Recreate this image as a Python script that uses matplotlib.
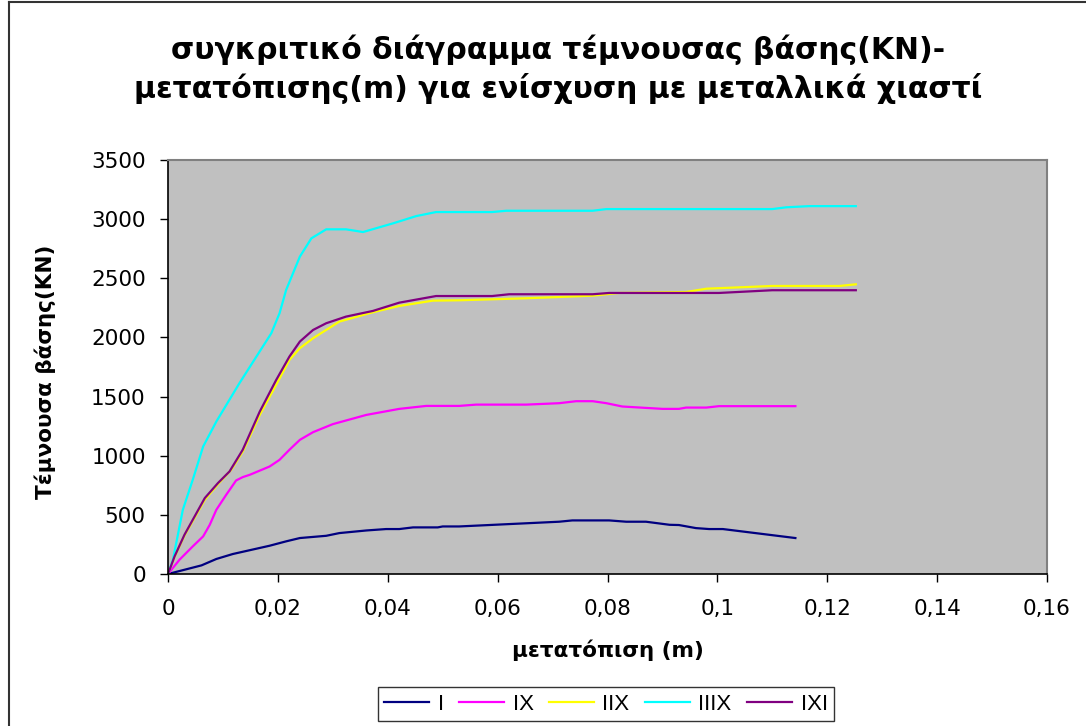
import matplotlib
matplotlib.use("Agg")
import matplotlib.pyplot as plt
from matplotlib.ticker import FuncFormatter, MultipleLocator
from matplotlib.lines import Line2D

plt.rcParams['font.family'] = ['Liberation Sans', 'DejaVu Sans']

# displacement (m) / base shear (KN) for each bracing scheme
x_I = [0, 0.0061, 0.0088, 0.0118, 0.0185, 0.0215, 0.024, 0.0288, 0.0312, 0.0361,
       0.0397, 0.0421, 0.0446, 0.0491, 0.050, 0.053, 0.0712, 0.0736, 0.0803, 0.0834,
       0.087, 0.0913, 0.093, 0.0961, 0.0985, 0.101, 0.1142]
y_I = [0, 73, 127, 169, 239, 276, 304, 323, 346, 368,
       380, 380, 394, 394, 402, 402, 442, 453, 453, 442,
       442, 416, 414, 388, 380, 380, 304]

x_IX = [0, 0.0021, 0.0045, 0.0064, 0.0076, 0.0088, 0.0106, 0.0124, 0.0136, 0.0149,
        0.0185, 0.0203, 0.0221, 0.024, 0.0264, 0.030, 0.0361, 0.0421, 0.047, 0.053,
        0.0561, 0.0652, 0.0712, 0.0743, 0.0773, 0.0798, 0.0827, 0.090, 0.093, 0.0943,
        0.098, 0.1003, 0.1142]
y_IX = [0, 121, 233, 318, 416, 543, 670, 791, 819, 839,
        909, 965, 1050, 1134, 1199, 1267, 1345, 1396, 1421, 1421,
        1432, 1432, 1444, 1461, 1461, 1444, 1416, 1396, 1396, 1407,
        1407, 1419, 1419]

x_IIX = [0, 0.0012, 0.003, 0.0067, 0.0091, 0.0115, 0.0136, 0.0167, 0.020, 0.0221,
         0.024, 0.0264, 0.0312, 0.0373, 0.0421, 0.0482, 0.053, 0.0652, 0.0773, 0.0821,
         0.0943, 0.098, 0.110, 0.1222, 0.1252]
y_IIX = [0, 145, 325, 628, 760, 881, 1035, 1345, 1627, 1810,
         1909, 1993, 2134, 2213, 2266, 2311, 2314, 2331, 2353, 2376,
         2384, 2412, 2435, 2435, 2449]

x_IIIX = [0, 0.0009, 0.0027, 0.0045, 0.0064, 0.0088, 0.013, 0.0188, 0.0203, 0.0215,
          0.024, 0.0261, 0.0288, 0.0324, 0.0355, 0.041, 0.0452, 0.0488, 0.059, 0.0616,
          0.0773, 0.0798, 0.110, 0.1125, 0.1167, 0.1252]
y_IIIX = [0, 121, 543, 796, 1078, 1289, 1613, 2035, 2204, 2401,
          2683, 2838, 2914, 2914, 2891, 2965, 3026, 3060, 3060, 3071,
          3071, 3085, 3085, 3100, 3110, 3110]

x_IXI = [0, 0.0012, 0.003, 0.0067, 0.0091, 0.0112, 0.0136, 0.0167, 0.0197, 0.0221,
         0.024, 0.0264, 0.0288, 0.0324, 0.0373, 0.0421, 0.0488, 0.059, 0.0621, 0.0773,
         0.0803, 0.1003, 0.110, 0.1252]
y_IXI = [0, 149, 332, 642, 769, 867, 1050, 1373, 1641, 1838,
         1965, 2063, 2120, 2176, 2224, 2294, 2350, 2350, 2365, 2365,
         2376, 2376, 2399, 2399]

series_labels = ['I', 'IX', 'IIX', 'IIIX', 'IXI']
series_colors = ['#000080', '#FF00FF', '#FFFF00', '#00FFFF', '#800080']
series_x = [x_I, x_IX, x_IIX, x_IIIX, x_IXI]
series_y = [y_I, y_IX, y_IIX, y_IIIX, y_IXI]

title_text = "συγκριτικό διάγραμμα τέμνουσας βάσης(KN)-\nμετατόπισης(m) για ενίσχυση με μεταλλικά χιαστί"
xlabel_text = "μετατόπιση (m)"
ylabel_text = "Τέμνουσα βάσης(KN)"

fig = plt.figure(figsize=(10.86, 7.26), dpi=100)
ax = fig.add_axes([168 / 1086, 1 - 574 / 726, 879 / 1086, 414 / 726])
ax.set_facecolor('#C0C0C0')

for xs, ys, lab, col in zip(series_x, series_y, series_labels, series_colors):
    ax.plot(xs, ys, color=col, lw=1.6, label=lab)

ax.set_xlim(0, 0.16)
ax.set_ylim(0, 3500)
ax.xaxis.set_major_locator(MultipleLocator(0.02))
ax.yaxis.set_major_locator(MultipleLocator(500))
ax.xaxis.set_major_formatter(FuncFormatter(
    lambda v, p: '0' if abs(v) < 1e-9 else f'{v:g}'.replace('.', ',')))
ax.tick_params(axis='both', direction='out', length=6, width=1, colors='black',
               labelsize=15.5, pad=12)
ax.tick_params(axis='y', pad=10)
for lbl in ax.get_xticklabels() + ax.get_yticklabels():
    lbl.set_family('DejaVu Sans')

for side in ('left', 'bottom'):
    ax.spines[side].set_color('black')
    ax.spines[side].set_linewidth(1.2)
for side in ('top', 'right'):
    ax.spines[side].set_color('#808080')
    ax.spines[side].set_linewidth(1.5)

fig.text(558 / 1086, 1 - 69 / 726, title_text, ha='center', va='center',
         fontsize=21.5, fontweight='bold', family='DejaVu Sans', linespacing=1.3)
fig.text(608 / 1086, 1 - 650 / 726, xlabel_text, ha='center', va='center',
         fontsize=15.5, fontweight='bold', family='DejaVu Sans')
fig.text(45 / 1086, 1 - 372 / 726, ylabel_text, ha='center', va='center',
         fontsize=15.5, fontweight='bold', family='DejaVu Sans', rotation=90)

leg = fig.legend(loc='center', bbox_to_anchor=(606 / 1086, 1 - 704 / 726),
                 ncol=5, frameon=True, fancybox=False, fontsize=16,
                 handlelength=2.0, columnspacing=0.7, handletextpad=0.4,
                 borderpad=0.3, borderaxespad=0)
leg.get_frame().set_edgecolor('black')
leg.get_frame().set_linewidth(1.0)

# outer chart frame along the top and left edges
fig.add_artist(Line2D([9 / 1086, 1], [1 - 2 / 726, 1 - 2 / 726],
                      transform=fig.transFigure, color='#333333', lw=1.5))
fig.add_artist(Line2D([9 / 1086, 9 / 1086], [0, 1 - 2 / 726],
                      transform=fig.transFigure, color='#333333', lw=1.5))

fig.savefig('out.png', dpi=100)
